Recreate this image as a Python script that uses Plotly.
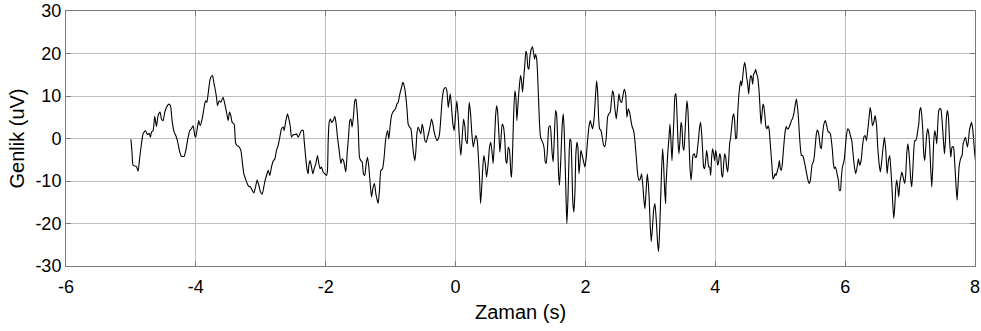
import plotly.graph_objects as go

t = [-5.000,-4.982,-4.967,-4.915,-4.890,-4.864,-4.838,-4.813,-4.777,-4.746,-4.720,-4.700,-4.684,-4.658,-4.633,-4.607,-4.581,-4.551,-4.530,-4.504,-4.479,-4.453,-4.417,-4.391,-4.366,-4.335,-4.309,-4.284,-4.248,-4.222,-4.181,-4.155,-4.119,-4.093,-4.068,-4.042,-4.016,-4.001,-3.975,-3.955,-3.934,-3.903,-3.873,-3.852,-3.831,-3.811,-3.785,-3.770,-3.744,-3.719,
     -3.708,-3.682,-3.667,-3.641,-3.616,-3.580,-3.554,-3.528,-3.503,-3.482,-3.461,-3.441,-3.410,-3.390,-3.369,-3.338,-3.307,-3.287,-3.261,-3.235,-3.210,-3.184,-3.158,-3.133,-3.107,-3.081,-3.056,-3.030,-3.004,-2.979,-2.953,-2.938,-2.912,-2.886,-2.861,-2.835,-2.809,-2.784,-2.758,-2.732,-2.707,-2.681,-2.655,-2.640,-2.614,-2.588,-2.568,-2.547,-2.527,-2.501,-2.475,-2.450,-2.424,-2.398,-2.373,-2.347,-2.332,-2.311,-2.290,-2.270,
     -2.260,-2.240,-2.219,-2.199,-2.178,-2.152,-2.127,-2.106,-2.086,-2.065,-2.040,-2.014,-1.988,-1.973,-1.962,-1.947,-1.927,-1.911,-1.885,-1.860,-1.839,-1.819,-1.793,-1.767,-1.747,-1.726,-1.706,-1.690,-1.670,-1.649,-1.629,-1.613,-1.593,-1.572,-1.552,-1.536,-1.521,-1.500,-1.480,-1.459,-1.439,-1.418,-1.398,-1.377,-1.356,-1.336,-1.315,-1.295,-1.269,-1.249,-1.228,-1.207,-1.192,-1.172,-1.151,-1.125,-1.100,-1.079,-1.048,-1.028,-1.007,-0.987,-0.966,-0.946,-0.925,-0.904,
     -0.884,-0.858,-0.832,-0.812,-0.791,-0.771,-0.750,-0.730,-0.709,-0.688,-0.668,-0.647,-0.627,-0.611,-0.596,-0.575,-0.555,-0.534,-0.514,-0.493,-0.473,-0.452,-0.432,-0.411,-0.391,-0.370,-0.350,-0.329,-0.308,-0.288,-0.267,-0.247,-0.226,-0.206,-0.180,-0.154,-0.134,-0.113,-0.098,-0.082,-0.062,-0.041,-0.021,0.000,0.020,0.041,0.061,0.082,0.102,0.123,0.144,0.159,0.180,0.195,0.210,0.231,0.251,0.272,0.292,0.313,0.334,0.349,0.370,0.385,0.400,0.421,0.436,0.457,0.477,
     0.502,0.523,0.543,0.564,0.579,0.595,0.615,0.631,0.646,0.667,0.682,0.698,0.718,0.739,0.759,0.775,0.790,0.811,0.831,0.852,0.862,0.877,0.893,0.913,0.929,0.944,0.965,0.985,1.001,1.016,1.031,1.047,1.067,1.083,1.098,1.114,1.129,1.144,1.165,1.185,1.201,1.216,1.232,1.252,1.273,1.293,1.309,1.329,1.350,1.365,1.381,1.396,1.417,1.437,1.458,1.473,1.488,1.504,1.519,1.540,1.555,1.571,1.586,1.601,1.622,1.643,1.658,1.673,1.689,1.704,1.714,1.730,1.745,1.761,1.776,1.791,1.807,1.822,1.838,1.853,1.869,1.884,
     1.900,1.915,1.930,1.951,1.972,1.992,2.013,2.033,2.054,2.074,2.095,2.110,2.131,2.151,2.172,2.187,2.203,2.218,2.239,2.259,2.280,2.300,2.321,2.341,2.362,2.382,2.403,2.418,2.434,2.454,2.475,2.495,2.516,2.536,2.557,2.578,2.598,2.619,2.639,2.660,2.680,2.701,2.721,2.742,2.762,2.783,2.804,2.824,2.845,2.865,2.886,2.901,2.917,2.932,2.952,2.968,2.983,2.999,3.014,3.035,3.050,3.071,3.091,3.112,3.127,3.143,3.158,3.173,3.189,3.204,3.220,3.235,
     3.240,3.256,3.271,3.287,3.302,3.317,3.333,3.348,3.364,3.379,3.394,3.410,3.425,3.441,3.456,3.472,3.487,3.502,3.518,3.533,3.549,3.564,3.579,3.595,3.610,3.626,3.641,3.656,3.677,3.692,3.708,3.723,3.739,3.759,3.775,3.790,3.805,3.821,3.836,3.852,3.867,3.882,3.898,3.913,3.929,3.944,3.959,3.975,3.990,4.006,4.021,4.036,4.052,4.067,4.083,4.098,4.114,4.129,4.144,4.160,4.175,4.191,4.206,4.221,4.237,4.252,4.268,4.283,4.298,4.314,4.329,4.345,4.360,4.375,4.391,4.406,4.422,4.437,4.452,4.468,4.483,4.499,4.514,4.530,4.545,4.560,4.576,4.591,4.607,4.622,4.637,
     4.653,4.674,4.689,4.704,4.720,4.735,4.751,4.766,4.781,4.797,4.812,4.828,4.843,4.859,4.874,4.889,4.905,4.920,4.936,4.951,4.972,4.987,5.002,5.018,5.033,5.049,5.064,5.079,5.095,5.110,5.126,5.141,5.156,5.172,5.187,5.203,5.218,5.233,5.249,5.264,5.280,5.295,5.310,5.326,5.341,5.357,5.372,5.388,5.403,5.418,5.434,5.449,5.465,5.480,5.495,5.511,5.526,5.542,5.557,5.572,5.588,5.603,5.619,5.634,5.649,5.665,5.680,5.696,5.711,5.726,5.742,5.757,5.773,5.788,5.804,5.819,5.834,5.850,5.865,5.881,5.896,5.911,5.927,5.942,5.958,5.973,5.988,6.004,
     6.020,6.040,6.061,6.081,6.102,6.122,6.143,6.163,6.184,6.204,6.225,6.246,6.266,6.287,6.307,6.328,6.348,6.369,6.384,6.400,6.420,6.441,6.461,6.482,6.502,6.523,6.543,6.564,6.585,6.605,6.626,6.646,6.667,6.687,6.703,6.718,6.733,6.749,6.764,6.780,6.795,6.810,6.826,6.841,6.857,6.872,6.888,6.903,6.918,6.934,6.949,6.965,6.980,6.995,7.011,7.026,7.042,7.057,7.072,7.088,7.103,7.119,7.134,7.149,7.165,7.180,7.196,7.211,7.226,7.242,7.257,7.273,7.288,7.303,7.319,7.334,7.350,7.365,7.381,7.396,7.411,7.427,7.442,7.458,
     7.473,7.493,7.514,7.529,7.545,7.560,7.575,7.591,7.606,7.627,7.647,7.668,7.688,7.709,7.724,7.740,7.755,7.771,7.786,7.801,7.817,7.832,7.853,7.868,7.884,7.899,7.914,7.930,7.945,7.961,7.976,7.991,8.007]

amp = [-0.2,-3.6,-6.3,-6.6,-7.7,-4.4,-1.25,1.1,1.9,0.9,1.25,0.3,1.5,1.9,5.2,2.8,5.4,6.2,4.6,4.2,6.2,7.3,8.1,7.7,4.2,1.5,0.7,-0.5,-3.2,-4.2,-4.2,-2.8,0.3,1.9,2.3,3.0,0.7,0.3,2.7,4.2,3.0,4.6,7.3,8.9,8.5,10.5,13.6,14.4,14.8,12.8,
       12.0,9.7,7.7,8.9,8.5,9.7,8.1,6.2,4.2,6.2,5.4,3.8,3.4,-0.9,-1.6,-1.9,-2.8,-5.2,-8.3,-9.5,-10.6,-11.25,-11.4,-12.2,-12.8,-11.4,-9.8,-11.0,-12.6,-13.1,-11.4,-10.2,-8.7,-7.5,-8.7,-6.7,-5.3,-4.8,-2.8,-1.6,0.3,2.3,2.7,1.9,4.2,5.8,4.6,3.0,0.3,0.9,0.9,1.1,0.3,1.1,1.9,1.9,-0.5,-4.0,-7.1,-8.3,
       -6.3,-5.2,-6.7,-8.3,-7.1,-5.9,-4.0,-5.9,-7.1,-6.7,-7.9,-8.3,-8.7,-7.5,-0.5,3.8,4.6,3.8,4.2,5.2,3.4,0.3,-2.8,-5.9,-4.8,-5.2,-6.7,-7.9,-3.6,0.3,4.2,4.6,2.7,5.4,8.9,9.3,7.3,2.7,-4.4,-5.2,-5.5,-8.3,-8.7,-5.9,-4.4,-6.7,-10.6,-13.75,-11.4,-10.6,-13.0,-14.5,-15.3,-12.2,-7.5,-7.1,-4.4,-0.5,1.9,-0.1,3.0,5.4,6.2,6.6,7.0,8.1,
       8.5,10.5,12.0,13.2,12.4,10.5,7.3,3.4,2.7,2.3,-0.5,-3.6,-5.2,-2.8,1.1,2.7,1.9,1.1,3.4,1.9,-0.5,-0.9,0.3,1.5,3.0,4.6,3.4,1.5,0.3,-0.5,-0.1,1.1,5.0,9.3,11.6,12.0,11.25,7.3,8.9,10.5,7.3,3.4,1.9,5.8,8.9,5.0,-0.5,-4.0,0.3,4.6,2.7,-0.5,-1.25,4.2,8.5,5.8,1.1,-2.0,-0.5,0.7,-0.5,-3.6,-9.8,-15.3,-12.2,-6.3,-4.0,-5.9,-9.1,
       -5.9,-2.0,-0.9,-3.6,-5.9,-2.0,5.0,7.7,6.6,1.1,-3.2,-0.5,3.4,2.7,-0.5,-5.2,-5.9,-2.0,-2.8,-8.3,-9.1,-3.6,5.0,11.25,9.7,4.2,8.9,12.8,14.8,13.6,10.9,13.6,17.5,20.6,19.8,16.7,16.3,19.1,21.0,21.6,20.2,18.7,19.8,18.3,11.25,3.4,0.3,-0.5,-1.25,-2.4,-5.5,-5.9,-2.0,2.7,3.0,0.3,-3.6,-5.5,-0.5,6.6,5.8,0.3,-8.3,-11.0,-4.4,3.4,5.8,1.9,-6.7,-15.3,-20.0,-14.5,-5.9,-0.1,-0.5,-6.7,-15.3,-17.3,-13.0,-3.6,-0.9,-2.0,
       -8.3,-5.9,-2.8,-4.0,-5.5,-6.7,-4.4,-0.5,2.7,4.2,3.0,2.3,4.2,8.9,13.6,11.25,5.0,2.3,1.9,0.3,-1.6,-1.9,0.3,5.0,5.8,6.2,9.3,11.25,10.5,7.0,4.6,7.3,10.5,8.9,8.5,10.1,11.6,10.5,5.0,7.0,6.2,4.2,2.7,1.9,-0.5,-4.4,-8.3,-9.8,-9.5,-8.3,-11.4,-14.5,-16.5,-13.0,-8.3,-10.6,-14.5,-20.8,-24.3,-20.4,-16.9,-15.3,-19.2,-24.7,-26.6,-21.6,-14.5,-7.5,-2.4,-5.9,-12.2,-15.3,
       -11.4,-6.7,-2.8,0.3,3.4,-0.5,-5.2,-0.5,5.0,10.1,10.5,5.8,-0.5,-3.6,-0.5,3.8,2.7,-2.0,-2.8,1.1,5.8,8.9,6.6,-0.5,-6.7,-9.8,-7.5,-4.0,-3.6,-4.4,-4.4,-2.8,-0.5,2.7,3.8,1.1,-2.8,-6.7,-7.1,-5.2,-2.8,-4.4,-6.7,-6.7,-8.7,-4.4,-2.4,-3.6,-5.2,-2.8,-4.0,-6.3,-5.5,-3.6,-4.4,-8.3,-9.1,-5.9,-3.6,-4.4,-6.7,-7.9,-5.2,-1.25,0.3,2.7,5.0,5.8,4.2,-0.1,0.3,5.8,9.7,12.0,13.6,12.4,14.4,16.7,17.9,16.7,14.4,12.8,10.5,13.2,14.8,14.4,12.8,15.2,15.5,16.3,15.2,
       14.4,11.25,7.3,3.4,5.8,8.1,7.3,5.0,2.7,2.3,3.0,2.3,-0.5,-3.6,-6.7,-9.5,-9.1,-8.3,-8.7,-7.9,-6.7,-5.2,-7.1,-7.5,-5.9,-2.8,-0.1,1.9,2.8,2.3,2.3,2.8,3.4,4.2,4.6,5.4,6.6,8.1,9.3,7.7,5.0,1.1,-2.0,-4.0,-4.0,-4.4,-5.5,-6.7,-7.9,-9.1,-10.2,-10.6,-9.8,-7.5,-5.9,-5.5,-4.0,-1.25,1.1,2.0,1.5,-0.1,-2.0,-2.4,0.3,2.7,3.8,4.2,3.4,2.3,1.5,1.5,1.1,-0.5,-2.8,-5.9,-7.1,-6.7,-7.5,-8.7,-9.8,-12.2,-12.2,-9.1,-6.7,-5.9,-4.8,-2.0,
       0.7,2.3,1.9,0.7,-0.5,-3.6,-6.7,-8.3,-6.7,-4.8,-6.3,-5.2,-2.0,0.3,0.7,-0.5,1.9,5.0,7.3,6.2,3.0,3.8,5.4,3.4,-2.0,-5.9,-7.9,-5.2,-2.0,0.3,-2.8,-8.3,-5.2,-4.0,-7.1,-10.6,-15.3,-18.8,-16.1,-11.4,-9.8,-11.4,-13.75,-10.6,-9.1,-7.9,-8.7,-9.8,-10.6,-8.3,-3.6,-1.25,-2.8,-5.9,-9.8,-11.4,-7.5,-2.8,-0.5,-0.5,0.3,1.9,3.4,6.6,7.3,5.4,1.9,-3.6,-5.2,-2.0,1.1,2.3,1.1,-2.0,-7.5,-11.4,-6.7,-0.5,1.9,0.7,-1.25,3.4,6.6,7.0,
       7.0,4.2,-0.5,-3.6,-0.5,5.0,6.6,5.0,0.3,-4.4,-2.0,-2.0,-5.9,-11.4,-14.5,-10.6,-6.7,-5.2,-4.4,-4.0,-1.25,-0.5,0.3,-0.9,-2.0,-0.5,1.9,3.0,3.8,2.7,0.3,-2.8,-5.2]

x_ticks = [-6, -4, -2, 0, 2, 4, 6, 8]
y_ticks = [-30, -20, -10, 0, 10, 20, 30]
x_labels = [str(v) for v in x_ticks]
y_labels = [str(v) for v in y_ticks]

FONT = "Liberation Sans, Arial, sans-serif"

fig = go.Figure()
fig.add_trace(go.Scatter(x=t, y=amp, mode="lines",
                         line=dict(color="black", width=1.1, shape="spline", smoothing=0.5),
                         hoverinfo="skip", showlegend=False))

axis_common = dict(
    showgrid=True, gridcolor="#bdbdbd", gridwidth=1,
    showline=True, linecolor="#7a7a7a", linewidth=1, mirror="ticks",
    ticks="inside", ticklen=5, tickcolor="#7a7a7a",
    zeroline=False, automargin=False,
    tickfont=dict(family=FONT, size=18, color="black"),
)

fig.update_layout(
    width=981, height=331,
    margin=dict(l=66, r=6, t=11, b=65),
    paper_bgcolor="white", plot_bgcolor="white",
    xaxis=dict(range=[-6, 8], tickvals=x_ticks, ticktext=x_labels, ticklabelstandoff=4,
               title=dict(text="Zaman (s)", standoff=9,
                          font=dict(family=FONT, size=20, color="black")),
               **axis_common),
    yaxis=dict(range=[-30, 30], tickvals=y_ticks, ticktext=y_labels,
               title=dict(text="Genlik (uV)", standoff=5,
                          font=dict(family=FONT, size=20, color="black")),
               **axis_common),
)

fig.write_html("out.html")
